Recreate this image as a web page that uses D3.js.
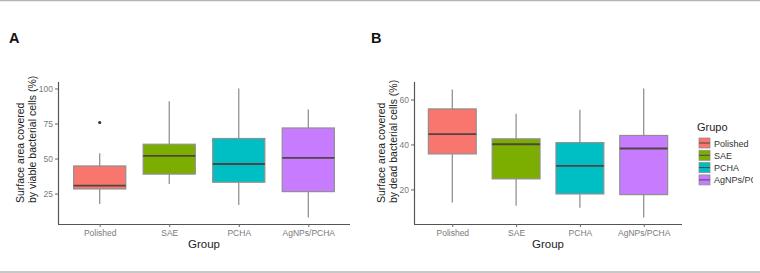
<!DOCTYPE html>
<html>
<head>
<meta charset="utf-8">
<script src="https://cdn.jsdelivr.net/npm/d3@7"></script>
<style>
  body { margin: 0; background: #fff; }
  svg { display: block; font-family: "Liberation Sans", Arial, sans-serif; }
</style>
</head>
<body>
<div class="canva"></div>
<script>
// groups and colours (ggplot defaults)
const groups = ["Polished", "SAE", "PCHA", "AgNPs/PCHA"];
const colors = ["#F8766D", "#7CAE00", "#00BFC4", "#C77CFF"];

// panel A: viable cells -- [low whisker, q1, median, q3, high whisker]
const viableStats = [
  [17.5, 28.3, 30.7, 44.7, 53.7],
  [31.9, 38.9, 51.9, 60.2, 90.8],
  [16.8, 33.1, 46.1, 64.3, 100],
  [7.9, 26.4, 50.5, 71.8, 84.9]
];
const viableOutliers = [[75.7], [], [], []];
const viableTicks = [25, 50, 75, 100];

// panel B: dead cells
const deadStats = [
  [14.2, 35.8, 44.6, 55.8, 64.4],
  [12.7, 24.7, 40.1, 42.5, 53.6],
  [11.8, 18.0, 30.5, 40.8, 55.4],
  [7.5, 17.7, 38.2, 44.0, 64.9]
];
const deadOutliers = [[], [], [], []];
const deadTicks = [20, 40, 60];

const svg = d3.select(".canva").append("svg")
    .attr("width", 760)
    .attr("height", 273);

// frame lines top and bottom
svg.append("line").attr("x1", 0).attr("x2", 760).attr("y1", 0.5).attr("y2", 0.5)
    .attr("stroke", "#b5b5b5").attr("stroke-width", 1.5);
svg.append("line").attr("x1", 0).attr("x2", 760).attr("y1", 272).attr("y2", 272)
    .attr("stroke", "#b5b5b5").attr("stroke-width", 1.5);

function panel(opt) {
  const g = svg.append("g");
  const x = d3.scalePoint().domain(groups).range([opt.x0, opt.x1]).padding(0.6);
  const step = (opt.x1 - opt.x0) / 4.2;
  const bw = step * 0.75;

  const allVals = opt.stats.flat().concat(opt.outliers.flat());
  const lo = d3.min(allVals), hi = d3.max(allVals);
  const pad = (hi - lo) * 0.05;
  const y = d3.scaleLinear().domain([lo - pad, hi + pad]).range([opt.y1, opt.y0]);

  g.append("text").attr("x", opt.labelX).attr("y", 43)
    .attr("font-size", 14.5).attr("font-weight", "bold")
    .attr("fill", "#111").text(opt.label);

  // boxes
  const box = g.selectAll("g.box").data(opt.stats).enter().append("g");
  box.append("line")
    .attr("x1", (d, i) => x(groups[i])).attr("x2", (d, i) => x(groups[i]))
    .attr("y1", d => y(d[0])).attr("y2", d => y(d[4]))
    .attr("stroke", "#8a8a8a").attr("stroke-width", 1.2);
  box.append("rect")
    .attr("x", (d, i) => x(groups[i]) - bw / 2).attr("width", bw)
    .attr("y", d => y(d[3])).attr("height", d => y(d[1]) - y(d[3]))
    .attr("fill", (d, i) => colors[i])
    .attr("stroke", "#8f8f8f").attr("stroke-width", 1.2);
  box.append("line")
    .attr("x1", (d, i) => x(groups[i]) - bw / 2).attr("x2", (d, i) => x(groups[i]) + bw / 2)
    .attr("y1", d => y(d[2])).attr("y2", d => y(d[2]))
    .attr("stroke", "#4f4545").attr("stroke-width", 1.8);

  opt.outliers.forEach((o, i) => {
    g.selectAll(null).data(o).enter().append("circle")
      .attr("cx", x(groups[i])).attr("cy", d => y(d)).attr("r", 1.6)
      .attr("fill", "#333");
  });

  // axes
  const yAxis = g.append("g").attr("transform", `translate(${opt.x0},0)`)
    .call(d3.axisLeft(y).tickValues(opt.ticks).tickSize(3).tickPadding(2));
  const xAxis = g.append("g").attr("transform", `translate(0,${opt.y1})`)
    .call(d3.axisBottom(x).tickSize(3).tickPadding(3));
  [yAxis, xAxis].forEach(a => {
    a.select(".domain").attr("stroke", "#555").attr("stroke-width", 1.2)
      .attr("d", a === yAxis ? `M0.5,${opt.y0}V${opt.y1}` : `M${opt.x0},0.5H${opt.x1}`);
    a.selectAll(".tick line").attr("stroke", "#666");
    a.selectAll(".tick text").attr("fill", "#7a7a7a").attr("font-size", 8.5)
      .attr("font-family", "'Liberation Sans', Arial, sans-serif");
  });

  g.append("text").attr("x", (opt.x0 + opt.x1) / 2).attr("y", 248)
    .attr("text-anchor", "middle").attr("font-size", 11.5).attr("fill", "#222")
    .text("Group");

  opt.title.forEach((t, k) => {
    g.append("text")
      .attr("transform", `translate(${opt.titleX + k * 11.5},203) rotate(-90)`)
      .attr("text-anchor", "start").attr("font-size", 10.5).attr("fill", "#222")
      .text(t);
  });
}

panel({
  label: "A", labelX: 9,
  x0: 58, x1: 350, y0: 82, y1: 224,
  stats: viableStats, outliers: viableOutliers, ticks: viableTicks,
  title: ["Surface area covered", "by viable bacterial cells (%)"], titleX: 24
});

panel({
  label: "B", labelX: 371,
  x0: 414, x1: 682, y0: 82, y1: 224,
  stats: deadStats, outliers: deadOutliers, ticks: deadTicks,
  title: ["Surface area covered", "by dead bacterial cells (%)"], titleX: 385
});

// legend (cut at the right edge, as in the source figure)
svg.append("clipPath").attr("id", "legclip")
  .append("rect").attr("x", 690).attr("y", 100).attr("width", 63).attr("height", 100);
const leg = svg.append("g").attr("clip-path", "url(#legclip)");
leg.append("text").attr("x", 697).attr("y", 131).attr("font-size", 11).attr("fill", "#222")
  .text("Grupo");
const item = leg.selectAll("g.item").data(groups).enter().append("g")
  .attr("transform", (d, i) => `translate(699,${143 + i * 12.3})`);
item.append("rect").attr("x", 0).attr("y", -5).attr("width", 11).attr("height", 10)
  .attr("fill", (d, i) => colors[i]).attr("stroke", "#8f8f8f").attr("stroke-width", 0.8);
item.append("line").attr("x1", 0).attr("x2", 11).attr("y1", 0).attr("y2", 0)
  .attr("stroke", "#4f4545").attr("stroke-width", 1);
item.append("text").attr("x", 15).attr("y", 3.5).attr("font-size", 9).attr("fill", "#333")
  .text(d => d);
</script>
</body>
</html>
